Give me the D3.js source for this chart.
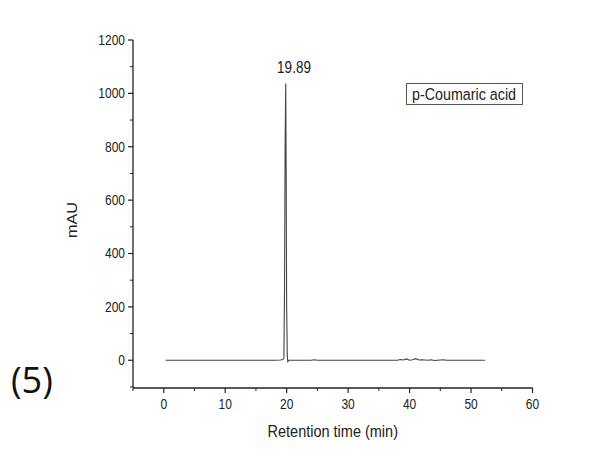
<!DOCTYPE html>
<html><head><meta charset="utf-8">
<script src="https://cdn.jsdelivr.net/npm/d3@7"></script>
<style>body{margin:0;background:#fff}svg{display:block}</style>
</head><body>
<script>
const times = [0.3, 5, 10, 15, 18, 19.0, 19.4, 19.55, 19.65, 19.75, 19.85, 19.92, 20.0, 20.1, 20.18, 20.25, 20.35, 21, 24, 24.5, 25, 30, 35, 38, 38.5, 39, 39.5, 40, 40.5, 41, 41.5, 42, 43, 43.5, 44, 45, 45.5, 46, 47, 50, 52.3];
const values = [0, 0, 0, 0, 0, 1, 3, 8, 250, 800, 1037, 700, 200, 20, -5, -3, 0, 0, 0, 2, 0, 0, 0, 0, 3, 1, 5, 0, 2, 6, 1, 2, 0, 2, -1, 1, 2, 0, 0, 0, 0];
const peakLabel = "19.89";
const legendLabel = "p-Coumaric acid";
const xTicks = [0, 10, 20, 30, 40, 50, 60];
const xMinor = [-5, 5, 15, 25, 35, 45, 55];
const yTicks = [0, 200, 400, 600, 800, 1000, 1200];
const yMinor = [100, 300, 500, 700, 900, 1100, -100];

const W = 605, H = 462;
const SY = 1.17; // vertical stretch of text seen in the reference
const svg = d3.select("body").append("svg").attr("width", W).attr("height", H);
const x = d3.scaleLinear().domain([-5, 60]).range([133, 532.5]);
const y = d3.scaleLinear().domain([-104, 1200]).range([388, 40]);
const font = "'Liberation Sans', Arial, sans-serif";
const axCol = "#222";

function txt(g, px, py, s, size, anchor) {
  return g.append("text").attr("transform", `translate(${px},${py}) scale(1,${SY})`)
    .attr("text-anchor", anchor || "middle").attr("font-family", font).attr("font-size", size)
    .attr("fill", "#222").text(s);
}

// x axis
const gx = svg.append("g").attr("transform", `translate(0,${y(-104)})`);
gx.append("line").attr("x1", x(-5)).attr("x2", x(60)).attr("stroke", axCol).attr("stroke-width", 1.3);
gx.selectAll(".mj").data(xTicks).join("line").attr("x1", d => x(d)).attr("x2", d => x(d)).attr("y1", 0).attr("y2", 5).attr("stroke", axCol).attr("stroke-width", 1.2);
gx.selectAll(".mn").data(xMinor).join("line").attr("x1", d => x(d)).attr("x2", d => x(d)).attr("y1", 0).attr("y2", 3).attr("stroke", axCol).attr("stroke-width", 1);
xTicks.forEach(d => txt(gx, x(d), 21, d, 12));

// y axis
const gy = svg.append("g").attr("transform", `translate(${x(-5)},0)`);
gy.append("line").attr("y1", y(-104)).attr("y2", y(1200)).attr("stroke", axCol).attr("stroke-width", 1.3);
gy.selectAll(".mj").data(yTicks).join("line").attr("y1", d => y(d)).attr("y2", d => y(d)).attr("x1", 0).attr("x2", -5).attr("stroke", axCol).attr("stroke-width", 1.2);
gy.selectAll(".mn").data(yMinor).join("line").attr("y1", d => y(d)).attr("y2", d => y(d)).attr("x1", 0).attr("x2", -3).attr("stroke", axCol).attr("stroke-width", 1);
yTicks.forEach(d => txt(gy, -8, y(d) + 5, d, 12, "end"));

// titles
txt(svg, (x(-5) + x(60)) / 2, 437, "Retention time (min)", 14.5);
svg.append("text").attr("transform", `translate(77,${(y(-104) + y(1200)) / 2 + 6}) rotate(-90) scale(${SY},1)`).attr("text-anchor", "middle")
  .attr("font-family", font).attr("font-size", 13.8).attr("fill", "#222").text("mAU");

// data line
const pts = times.map((t, i) => [t, values[i]]);
svg.append("path").datum(pts).attr("fill", "none").attr("stroke", "#444").attr("stroke-width", 1.1)
  .attr("d", d3.line().x(d => x(d[0])).y(d => y(d[1])));

// peak label
txt(svg, 294, 72.5, peakLabel, 13.5);

// legend box
const lg = svg.append("g");
lg.append("rect").attr("x", 406.5).attr("y", 83.5).attr("width", 116).attr("height", 21)
  .attr("fill", "#fff").attr("stroke", "#555").attr("stroke-width", 1);
txt(lg, 412, 99.5, legendLabel, 14.3, "start");

// panel label
svg.append("text").attr("x", 11).attr("y", 393).attr("font-family", "'Open Sans', 'Noto Sans', sans-serif").attr("font-size", 36).attr("fill", "#111").text("(5)");
</script>
</body></html>
